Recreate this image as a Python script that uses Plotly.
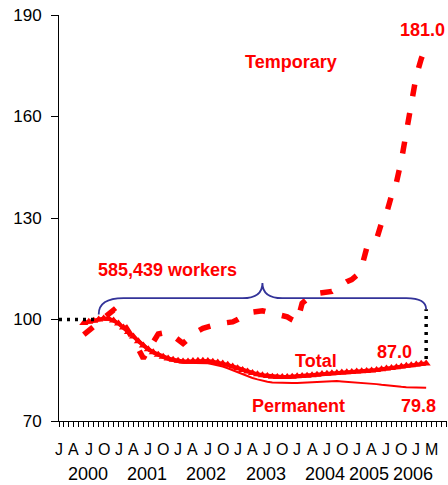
import plotly.graph_objects as go

# ---------------- data (index, base = 100) ----------------
months = list(range(5, 75))  # month index, 0 = Jan 2000

total = [99.0, 99.3, 99.6, 100.0, 100.3, 100.2, 99.7, 98.8, 97.6, 96.3,
         95.0, 93.6, 92.3, 91.2, 90.3, 89.6, 89.0, 88.5, 88.1, 87.8,
         87.6, 87.6, 87.7, 87.8, 87.8, 87.7, 87.5, 87.3, 87.0, 86.6,
         86.1, 85.6, 85.1, 84.6, 84.2, 83.8, 83.5, 83.3, 83.1, 83.0,
         83.0, 83.0, 83.1, 83.2, 83.3, 83.4, 83.5, 83.7, 83.9, 84.0,
         84.1, 84.2, 84.3, 84.4, 84.5, 84.6, 84.7, 84.8, 84.9, 85.1,
         85.3, 85.5, 85.7, 85.9, 86.1, 86.3, 86.5, 86.7, 86.9, 87.0]

permanent = [99.0, 99.3, 99.6, 100.0, 100.3, 100.1, 99.6, 98.7, 97.4, 96.0,
             94.7, 93.3, 92.0, 90.9, 90.0, 89.2, 88.6, 88.1, 87.7, 87.4,
             87.2, 87.2, 87.2, 87.3, 87.3, 87.1, 86.8, 86.5, 86.1, 85.6,
             85.0, 84.4, 83.8, 83.2, 82.7, 82.3, 81.9, 81.6, 81.4, 81.3,
             81.2, 81.2, 81.2, 81.2, 81.3, 81.4, 81.5, 81.6, 81.7, 81.8,
             81.8, 81.8, 81.7, 81.6, 81.5, 81.5, 81.4, 81.3, 81.1, 80.9,
             80.7, 80.5, 80.3, 80.2, 80.1, 80.0, 79.9, 79.8, 79.8, 79.8]

temporary = [95.5, 96.8, 98.0, 99.3, 100.3, 101.5, 102.8, 101.0, 99.0, 96.5,
             94.0, 91.5, 88.5, 91.0, 93.5, 95.7, 96.0, 96.3, 95.2, 93.8,
             92.9, 94.2, 95.5, 96.6, 97.4, 97.9, 98.3, 98.7, 98.9, 99.1,
             99.3, 100.0, 101.0, 101.8, 102.2, 102.4, 102.6, 102.2, 101.8, 101.5,
             101.2, 100.8, 99.9, 99.2, 104.8, 106.3, 107.3, 107.7, 107.9, 108.1,
             108.3, 109.3, 110.4, 111.2, 111.8, 113.0, 115.5, 121.0, 122.6, 123.7,
             128.5, 131.3, 136.5, 140.5, 147.0, 156.0, 165.0, 172.0, 177.0, 181.0]

baseline_months = [0, 8]
baseline_values = [100, 100]
gap_months = [74, 74]
gap_values = [88.3, 103.0]

tick_months = list(range(0, 76, 3))
tick_letters = ["J", "A", "J", "O"] * 6 + ["J", "M"]
year_labels = ["2000", "2001", "2002", "2003", "2004", "2005", "2006"]
year_pos = [5.9, 17.8, 29.7, 41.7, 53.6, 62.5, 71.4]

RED = "#FF0000"
FONT = "Liberation Sans, Arial, sans-serif"

fig = go.Figure()
fig.add_trace(go.Scatter(x=months, y=permanent, mode="lines",
                         line=dict(color=RED, width=2), hoverinfo="skip"))
fig.add_trace(go.Scatter(x=months, y=temporary, mode="lines",
                         line=dict(color=RED, width=5.5, dash="12px,17px"),
                         hoverinfo="skip"))
fig.add_trace(go.Scatter(x=months, y=total, mode="lines+markers",
                         line=dict(color=RED, width=4),
                         marker=dict(symbol="triangle-up", size=8, color=RED),
                         hoverinfo="skip"))
fig.add_trace(go.Scatter(x=baseline_months, y=baseline_values, mode="lines",
                         line=dict(color="black", width=3.5, dash="3px,5px"),
                         hoverinfo="skip"))
fig.add_trace(go.Scatter(x=gap_months, y=gap_values, mode="lines",
                         line=dict(color="black", width=3.5, dash="3px,5px"),
                         hoverinfo="skip"))

# curly brace over the period
bx0, bx1, bpk = baseline_months[1], gap_months[0], 41.0
by0, by1, bflat, btop = 101.5, gap_values[1], 106.3, 110.8
brace = (f"M {bx0},{by0} Q {bx0},{bflat} {bx0+5},{bflat} "
         f"L {bpk-4},{bflat} Q {bpk},{bflat} {bpk},{btop} "
         f"Q {bpk},{bflat} {bpk+4},{bflat} "
         f"L {bx1-4},{bflat} Q {bx1},{bflat} {bx1},{by1}")
fig.add_shape(type="path", path=brace, xref="x", yref="y",
              line=dict(color="#333399", width=1.8))

def lab(text, x, y):
    fig.add_annotation(x=x, y=y, xref="x", yref="y", text=f"<b>{text}</b>",
                       showarrow=False, font=dict(family=FONT, size=18, color=RED))

lab("Temporary", 46.8, 176.1)
lab("181.0", 73.2, 185.7)
lab("585,439 workers", 21.9, 114.5)
lab("Total", 51.8, 87.6)
lab("87.0", 67.7, 90.3)
lab("Permanent", 48.2, 74.4)
lab("79.8", 72.5, 74.4)

# quarter letters under the ticks
for t, p in zip(tick_letters, tick_months):
    fig.add_annotation(x=p, y=0, xref="x", yref="paper", text=t, showarrow=False,
                       yanchor="middle", yshift=-28,
                       font=dict(family=FONT, size=16, color="black"))
# year labels
for t, p in zip(year_labels, year_pos):
    fig.add_annotation(x=p, y=0, xref="x", yref="paper", text=t, showarrow=False,
                       yanchor="middle", yshift=-53,
                       font=dict(family=FONT, size=18, color="black"))

fig.update_layout(
    width=448, height=485,
    margin=dict(l=59, r=1, t=15, b=64),
    paper_bgcolor="white", plot_bgcolor="white",
    showlegend=False, hovermode=False,
    font=dict(family=FONT, color="black"),
)
fig.update_xaxes(range=[0, 78.2], showgrid=False, zeroline=False, automargin=False,
                 showline=True, linecolor="black", linewidth=1,
                 tickvals=tick_months, ticktext=[""] * len(tick_months),
                 ticks="outside", ticklen=5, tickcolor="black", tickwidth=1,
                 minor=dict(dtick=1, tick0=0, ticks="outside", ticklen=5,
                            tickcolor="black", tickwidth=1, showgrid=False))
fig.update_yaxes(range=[70, 190], showgrid=False, zeroline=False, automargin=False,
                 showline=True, linecolor="black", linewidth=1,
                 tickvals=[70, 100, 130, 160, 190],
                 ticks="outside", ticklen=7, tickcolor="black", tickwidth=1,
                 ticklabelstandoff=6, ticklabeloverflow="allow",
                 tickfont=dict(family=FONT, size=17, color="black"))

# remove the default 8px page margin so the figure fills the window exactly
fig.write_html("out.html",
               config={"displayModeBar": False, "staticPlot": True},
               post_script="document.body.style.margin='0';"
                           "document.body.style.overflow='hidden';")
